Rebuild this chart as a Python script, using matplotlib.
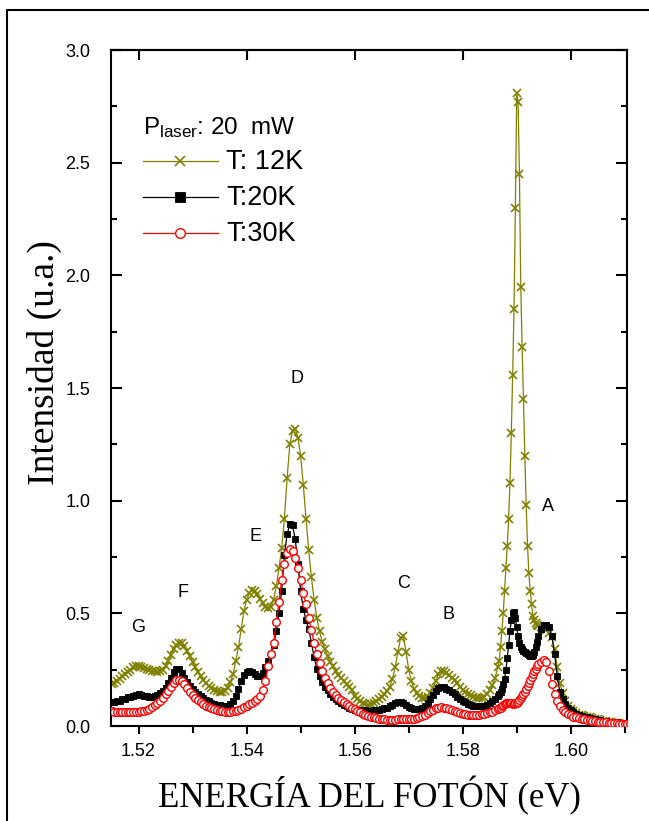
import numpy as np
import matplotlib
matplotlib.use("Agg")
import matplotlib.pyplot as plt
from matplotlib.lines import Line2D
from matplotlib.ticker import MultipleLocator, FormatStrFormatter

plt.rcParams["font.family"] = ["Liberation Sans", "DejaVu Sans"]
plt.rcParams["mathtext.default"] = "regular"

# photon energy grid (eV): finer steps around the sharp A line
energia = np.round(np.concatenate([
    np.arange(1.515, 1.5865 + 1e-9, 0.0005),
    np.arange(1.58675, 1.59375 + 1e-9, 0.00025),
    np.arange(1.594, 1.611 + 1e-9, 0.0005),
]), 5)

# PL intensity (u.a.) at 12 K
int_12k = [
    0.185, 0.19, 0.20, 0.21, 0.22, 0.23, 0.24, 0.25, 0.26, 0.265,
    0.265, 0.262, 0.258, 0.253, 0.248, 0.245, 0.242, 0.241, 0.243, 0.25,
    0.265, 0.29, 0.315, 0.34, 0.36, 0.37, 0.368, 0.355, 0.335, 0.31,
    0.285, 0.262, 0.24, 0.222, 0.205, 0.19, 0.178, 0.168, 0.16, 0.155,
    0.152, 0.15, 0.155, 0.17, 0.195, 0.23, 0.29, 0.35, 0.43, 0.51,
    0.56, 0.59, 0.605, 0.60, 0.585, 0.565, 0.545, 0.528, 0.522, 0.53,
    0.56, 0.62, 0.70, 0.79, 0.92, 1.10, 1.25, 1.31, 1.32, 1.28,
    1.20, 1.07, 0.92, 0.78, 0.66, 0.56, 0.48, 0.42, 0.375, 0.34,
    0.31, 0.285, 0.265, 0.245, 0.228, 0.213, 0.198, 0.185, 0.172, 0.16,
    0.135, 0.122, 0.112, 0.104, 0.098, 0.095, 0.097, 0.102, 0.11, 0.118,
    0.128, 0.14, 0.155, 0.175, 0.21, 0.26, 0.33, 0.39, 0.40, 0.33,
    0.25, 0.20, 0.165, 0.145, 0.133, 0.126, 0.124, 0.13, 0.145, 0.17,
    0.20, 0.23, 0.245, 0.245, 0.235, 0.225, 0.215, 0.205, 0.19, 0.175,
    0.162, 0.152, 0.143, 0.136, 0.13, 0.126, 0.124, 0.125, 0.13, 0.142,
    0.158, 0.18, 0.215, 0.26,
    0.29, 0.35, 0.42, 0.50, 0.60, 0.70, 0.80, 0.92, 1.08, 1.30,
    1.56, 1.85, 2.30, 2.81, 2.77, 2.45, 1.95, 1.68, 1.45, 1.20,
    0.98, 0.80, 0.68, 0.60, 0.54, 0.49, 0.47, 0.455, 0.45,
    0.445, 0.44, 0.435, 0.425, 0.415, 0.395, 0.34, 0.26, 0.19, 0.145,
    0.112, 0.09, 0.075, 0.065, 0.057, 0.051, 0.047, 0.044, 0.041, 0.038,
    0.035, 0.032, 0.029, 0.026, 0.023, 0.021, 0.019, 0.017, 0.015, 0.014,
    0.012, 0.011, 0.01, 0.009, 0.008,
]

# PL intensity (u.a.) at 20 K
int_20k = [
    0.105, 0.108, 0.11, 0.113, 0.118, 0.122, 0.127, 0.13, 0.135, 0.138,
    0.14, 0.138, 0.134, 0.131, 0.13, 0.13, 0.133, 0.138, 0.145, 0.155,
    0.17, 0.19, 0.215, 0.24, 0.255, 0.255, 0.235, 0.215, 0.195, 0.178,
    0.163, 0.15, 0.14, 0.131, 0.123, 0.116, 0.11, 0.104, 0.099, 0.095,
    0.092, 0.09, 0.089, 0.09, 0.097, 0.11, 0.135, 0.165, 0.20, 0.225,
    0.238, 0.242, 0.238, 0.23, 0.222, 0.22, 0.235, 0.26, 0.29, 0.32,
    0.36, 0.42, 0.50, 0.60, 0.76, 0.85, 0.895, 0.89, 0.83, 0.72,
    0.60, 0.52, 0.47, 0.43, 0.37, 0.305, 0.255, 0.22, 0.195, 0.175,
    0.158, 0.143, 0.13, 0.12, 0.11, 0.102, 0.095, 0.088, 0.082, 0.077,
    0.073, 0.071, 0.07, 0.07, 0.069, 0.068, 0.068, 0.069, 0.07, 0.072,
    0.075, 0.078, 0.082, 0.088, 0.095, 0.102, 0.106, 0.108, 0.104, 0.095,
    0.086, 0.08, 0.077, 0.076, 0.077, 0.08, 0.088, 0.10, 0.118, 0.138,
    0.155, 0.168, 0.175, 0.172, 0.165, 0.158, 0.15, 0.14, 0.13, 0.12,
    0.112, 0.105, 0.099, 0.094, 0.09, 0.088, 0.087, 0.088, 0.09, 0.095,
    0.102, 0.11, 0.12, 0.135,
    0.143, 0.152, 0.165, 0.185, 0.21, 0.25, 0.30, 0.36, 0.42, 0.47,
    0.50, 0.505, 0.48, 0.44, 0.40, 0.37, 0.35, 0.34, 0.335, 0.33,
    0.325, 0.32, 0.315, 0.31, 0.31, 0.315, 0.33, 0.35, 0.375,
    0.40, 0.43, 0.447, 0.45, 0.44, 0.40, 0.32, 0.22, 0.15, 0.12,
    0.097, 0.082, 0.072, 0.062, 0.055, 0.05, 0.046, 0.042, 0.038, 0.035,
    0.032, 0.029, 0.027, 0.025, 0.023, 0.021, 0.019, 0.018, 0.017, 0.016,
    0.015, 0.014, 0.013, 0.012, 0.011,
]

# PL intensity (u.a.) at 30 K
int_30k = [
    0.065, 0.064, 0.063, 0.063, 0.062, 0.062, 0.062, 0.062, 0.063, 0.063,
    0.064, 0.065, 0.067, 0.071, 0.077, 0.085, 0.093, 0.10, 0.112, 0.125,
    0.14, 0.156, 0.175, 0.193, 0.203, 0.205, 0.198, 0.185, 0.168, 0.152,
    0.138, 0.126, 0.116, 0.107, 0.098, 0.09, 0.083, 0.078, 0.074, 0.07,
    0.067, 0.065, 0.064, 0.064, 0.064, 0.065, 0.067, 0.07, 0.075, 0.083,
    0.09, 0.097, 0.104, 0.11, 0.12, 0.135, 0.16, 0.20, 0.265, 0.32,
    0.37, 0.46, 0.55, 0.65, 0.72, 0.77, 0.785, 0.775, 0.745, 0.70,
    0.65, 0.59, 0.54, 0.48, 0.425, 0.37, 0.32, 0.28, 0.245, 0.215,
    0.19, 0.17, 0.152, 0.138, 0.126, 0.115, 0.106, 0.098, 0.09, 0.082,
    0.074, 0.067, 0.06, 0.055, 0.05, 0.046, 0.042, 0.038, 0.035, 0.032,
    0.03, 0.029, 0.028, 0.027, 0.027, 0.028, 0.029, 0.03, 0.03, 0.03,
    0.03, 0.031, 0.032, 0.035, 0.04, 0.045, 0.051, 0.058, 0.065, 0.072,
    0.078, 0.082, 0.083, 0.081, 0.078, 0.074, 0.07, 0.066, 0.062, 0.058,
    0.055, 0.052, 0.05, 0.049, 0.048, 0.049, 0.05, 0.052, 0.054, 0.057,
    0.06, 0.064, 0.069, 0.075,
    0.078, 0.082, 0.087, 0.092, 0.097, 0.10, 0.102, 0.103, 0.102, 0.10,
    0.099, 0.099, 0.10, 0.103, 0.108, 0.115, 0.123, 0.132, 0.142, 0.153,
    0.165, 0.178, 0.192, 0.205, 0.218, 0.23, 0.242, 0.255, 0.265,
    0.275, 0.285, 0.292, 0.285, 0.245, 0.185, 0.14, 0.11, 0.088, 0.072,
    0.062, 0.053, 0.047, 0.042, 0.038, 0.035, 0.032, 0.03, 0.027, 0.025,
    0.023, 0.021, 0.02, 0.018, 0.017, 0.016, 0.015, 0.014, 0.013, 0.012,
    0.011, 0.01, 0.01, 0.009, 0.009,
]

# peak labels
picos = ["G", "F", "E", "D", "C", "B", "A"]
picos_x = [1.5199, 1.5283, 1.5416, 1.5493, 1.5690, 1.5773, 1.5958]
picos_y = [0.439, 0.591, 0.841, 1.541, 0.634, 0.493, 0.974]

x_ticks = [1.52, 1.54, 1.56, 1.58, 1.60]

fig = plt.figure(figsize=(6.49, 8.21), dpi=100)
ax = fig.add_axes([0.171, 0.1157, 0.795, 0.8233])

estilos = [
    ("T: 12K", int_12k, dict(color="#808000", marker="x", ms=5.5, mew=1.2)),
    ("T:20K", int_20k, dict(color="black", marker="s", ms=5.0, mew=0.6)),
    ("T:30K", int_30k, dict(color="red", marker="o", ms=5.5, mew=1.0, mfc="white")),
]
for z, (lab, yv, kw) in enumerate(estilos):
    ax.plot(energia, yv, lw=0.9, zorder=2 + z, **kw)

for t, xx, yy in zip(picos, picos_x, picos_y):
    ax.text(xx, yy, t, fontsize=13, ha="center", va="center")

ax.set_xlim(1.5149, 1.6104)
ax.set_ylim(0, 3.0)
ax.set_xticks(x_ticks)
ax.xaxis.set_major_formatter(FormatStrFormatter("%.2f"))
ax.xaxis.set_minor_locator(MultipleLocator(0.01))
ax.yaxis.set_major_locator(MultipleLocator(0.5))
ax.yaxis.set_minor_locator(MultipleLocator(0.25))
ax.yaxis.set_major_formatter(FormatStrFormatter("%.1f"))

for s in ax.spines.values():
    s.set_linewidth(1.5)

ax.tick_params(axis="x", which="major", direction="out", length=6, width=1.5,
               labelsize=13, pad=6, top=False)
ax.tick_params(axis="x", which="minor", direction="out", length=5, width=1.5, top=False)
ax.tick_params(axis="y", which="major", direction="in", length=8, width=1.5,
               labelsize=13, pad=15, right=True)
ax.tick_params(axis="y", which="minor", direction="in", length=4, width=1.5, right=True)

# top axis: inward major ticks only, no labels
sec = ax.secondary_xaxis("top")
sec.set_xticks(x_ticks)
sec.tick_params(direction="in", length=7, width=1.5, labeltop=False)
sec.spines["top"].set_linewidth(1.5)

ax.set_xlabel("ENERGÍA DEL FOTÓN (eV)", family="Liberation Serif",
              fontsize=25, labelpad=12)
ax.set_ylabel("Intensidad (u.a.)", family="Liberation Serif", fontsize=27)
ax.yaxis.set_label_coords(-0.094, 0.537)

# legend drawn by hand in axes coordinates
ax.text(0.062, 0.8757, "P$_{laser}$: 20  mW", fontsize=17.5,
        transform=ax.transAxes, va="baseline", ha="left")
filas_y = [0.8362, 0.783, 0.7297]
for (lab, yv, kw), fy in zip(estilos, filas_y):
    ax.add_line(Line2D([0.0614, 0.208], [fy, fy], transform=ax.transAxes,
                       color=kw["color"], lw=0.9))
    ax.add_line(Line2D([0.1337], [fy], transform=ax.transAxes, ls="none",
                       **{**kw, "ms": kw["ms"] + 1.5}))
    ax.text(0.2229, fy - 0.0128, lab, fontsize=19.5, transform=ax.transAxes,
            va="baseline", ha="left")

# frame lines along the top and left of the figure
fig.add_artist(Line2D([7 / 649, 7 / 649, 1.0], [0.0, 811 / 821, 811 / 821],
                      transform=fig.transFigure, color="black", lw=1.5))

fig.savefig("out.png", dpi=100)
